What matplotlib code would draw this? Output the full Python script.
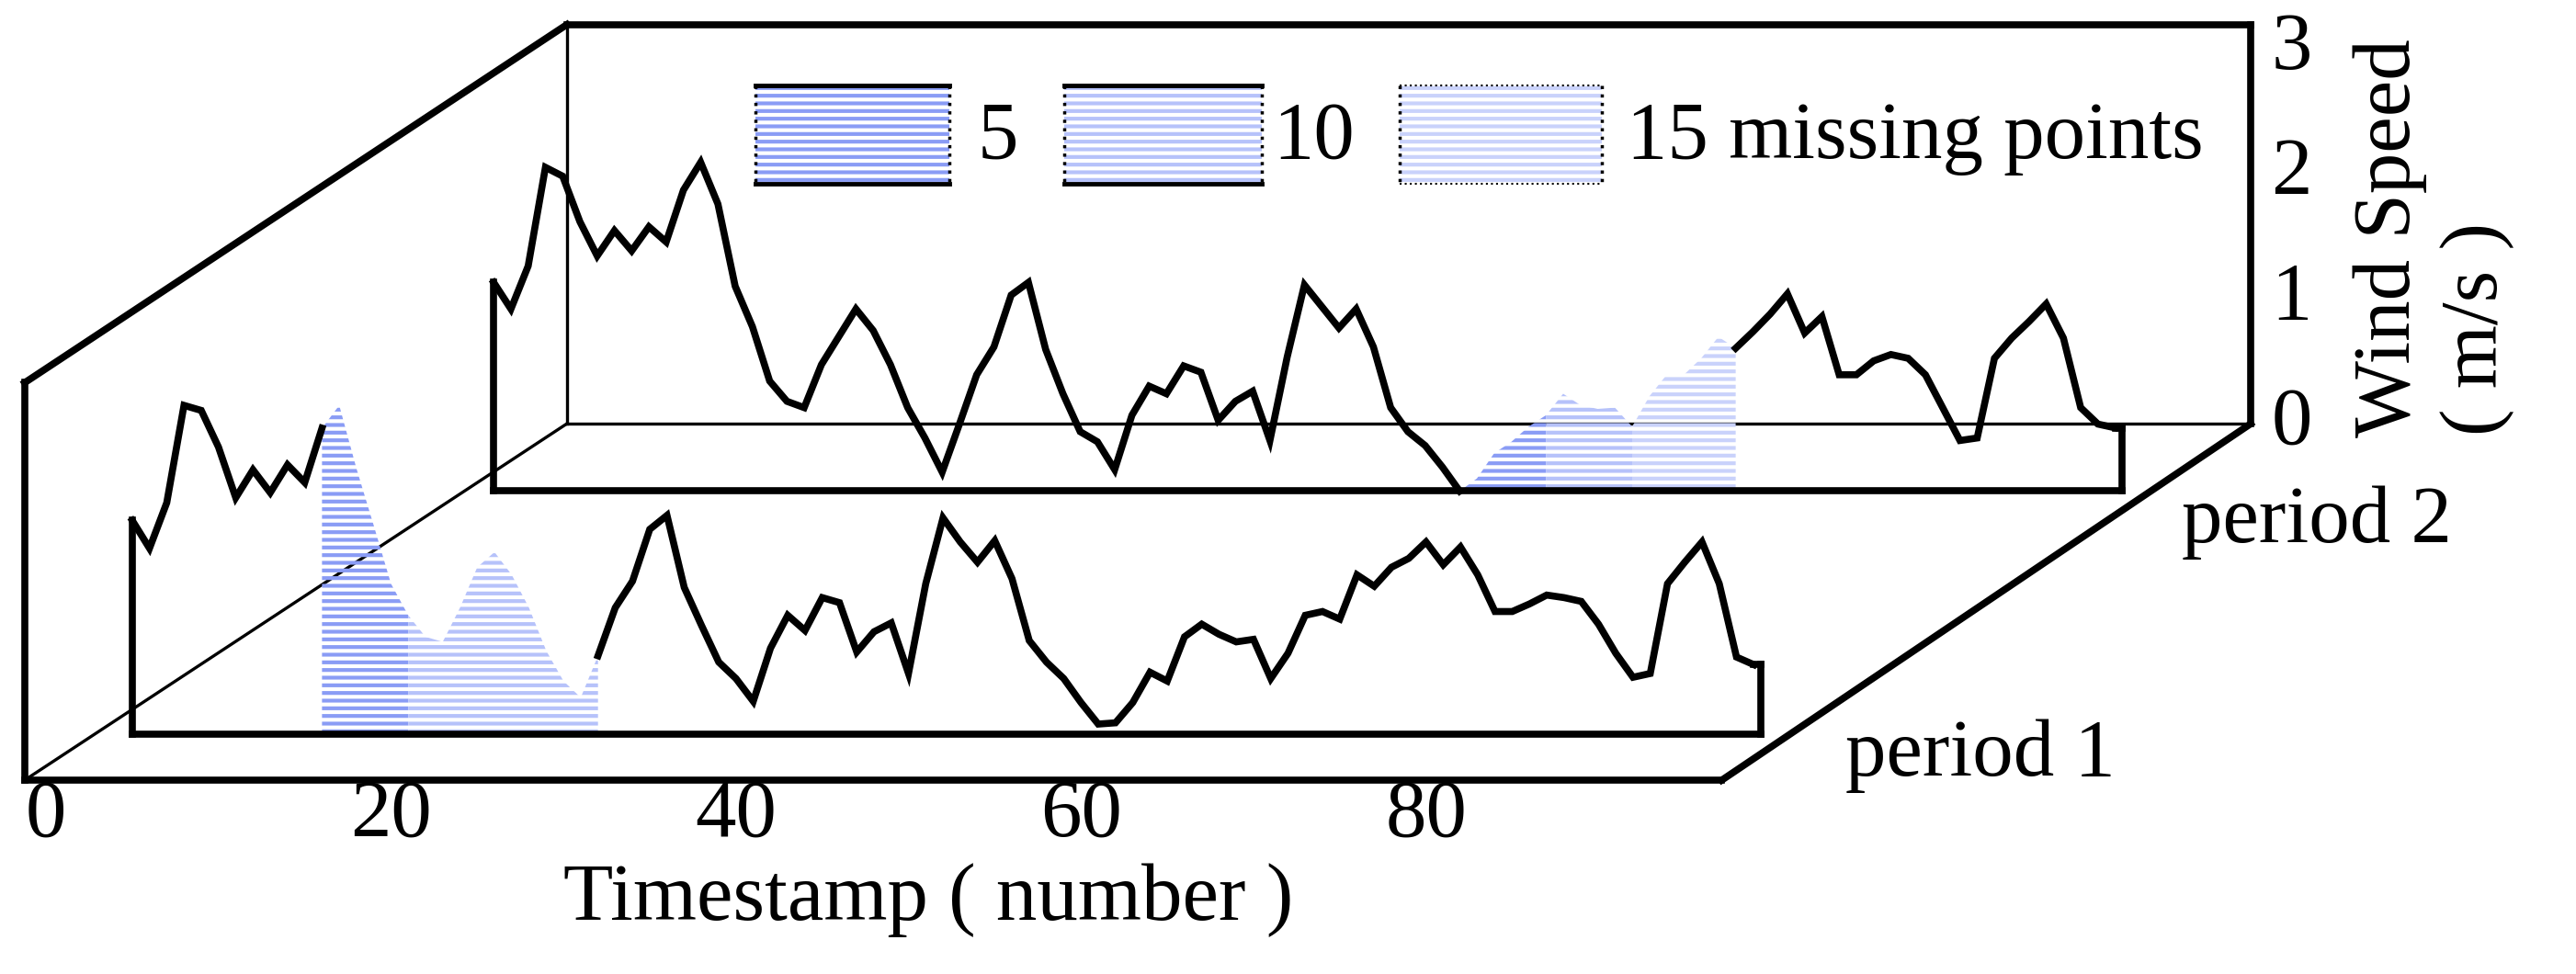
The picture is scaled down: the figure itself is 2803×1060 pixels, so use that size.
import numpy as np
import matplotlib
matplotlib.use("Agg")
import matplotlib.pyplot as plt
from matplotlib.patches import Rectangle

plt.rcParams['font.family'] = ['Liberation Serif', 'DejaVu Serif']
plt.rcParams['hatch.linewidth'] = 3.0

# ---------------- data ----------------
x_ticks = [0, 20, 40, 60, 80]
y_ticks = [0, 1, 2, 3]
legend_labels = ["5", "10", "15 missing points"]
colors = ["#8a9cf5", "#b6c2fa", "#c9d2fb"]

p1_t = list(range(5, 100))
p1_vals = [1.69, 1.47, 1.83, 2.60, 2.56, 2.27, 1.87, 2.09, 1.91, 2.13, 1.99, 2.42,
           None, None, None, None, None, None, None, None, None, None, None, None, None, None, None,
           0.62, 1.0, 1.21, 1.62, 1.73, 1.16, 0.86, 0.57, 0.44, 0.26, 0.68, 0.94, 0.82, 1.08, 1.04,
           0.65, 0.81, 0.88, 0.48, 1.19, 1.71, 1.52, 1.36, 1.53, 1.23, 0.74, 0.57, 0.44, 0.25, 0.08,
           0.09, 0.25, 0.49, 0.42, 0.77, 0.87, 0.79, 0.73, 0.75, 0.44, 0.64, 0.94, 0.97, 0.91, 1.26,
           1.17, 1.32, 1.39, 1.52, 1.34, 1.48, 1.26, 0.97, 0.97, 1.03, 1.10, 1.08, 1.05, 0.87, 0.64,
           0.45, 0.48, 1.19, 1.36, 1.52, 1.19, 0.61, 0.55]
p1_gap_t = list(range(16, 33))
p1_gap_vals = [2.42, 2.60, 2.10, 1.65, 1.19, 0.94, 0.77, 0.73, 1.0, 1.32, 1.44, 1.26, 1.0,
               0.66, 0.42, 0.29, 0.62]
p1_gap_split = [16, 21, 32]

p2_t = list(range(5, 100))
p2_vals = [1.65, 1.44, 1.78, 2.56, 2.49, 2.13, 1.86, 2.06, 1.9, 2.09, 1.97, 2.38, 2.6, 2.27, 1.62,
           1.3, 0.87, 0.71, 0.66, 1.0, 1.22, 1.44, 1.27, 1.0, 0.66, 0.42, 0.15, 0.53, 0.92, 1.14,
           1.55, 1.65, 1.12, 0.77, 0.47, 0.39, 0.17, 0.6, 0.83, 0.77, 0.99, 0.94, 0.56, 0.71, 0.79,
           0.4, 1.06, 1.63, 1.46, 1.29, 1.44, 1.14, 0.66, 0.47, 0.36, 0.19, 0.0,
           None, None, None, None, None, None, None, None, None, None, None, None, None, None, None,
           1.13, 1.26, 1.4, 1.56, 1.25, 1.38, 0.92, 0.92, 1.03, 1.08, 1.05, 0.92, 0.66, 0.4, 0.42,
           1.05, 1.21, 1.34, 1.48, 1.21, 0.66, 0.53, 0.5]
p2_gap_t = list(range(61, 78))
p2_gap_vals = [0.0, 0.1, 0.3, 0.39, 0.51, 0.6, 0.77, 0.68, 0.65, 0.66, 0.51, 0.75, 0.92, 0.92,
               1.05, 1.22, 1.13]
p2_gap_split = [61, 66, 71, 77]

# ---------------- figure ----------------
W, H = 1568.0, 593.0
fig = plt.figure(figsize=(28.03, 10.60), dpi=100)
base = fig.add_axes([0, 0, 1, 1])
base.set_xlim(0, W); base.set_ylim(H, 0); base.axis('off')

LW = 5.5
def seg(p, q, lw=LW):
    base.plot([p[0], q[0]], [p[1], q[1]], color='black', lw=lw, solid_capstyle='projecting')

# box
seg((15, 233), (15, 475)); seg((15, 475), (1048, 475))
seg((15, 233), (345, 15)); seg((345, 15), (1370, 15))
seg((1370, 15), (1370, 258)); seg((1370, 258), (1048, 475))
seg((345, 15), (345, 258), 2.4); seg((345, 258), (1370, 258), 2.4)
seg((15, 475), (345, 258), 2.4)

def series_axes(x0, y0):
    ax = fig.add_axes([0, 0, 1, 1], facecolor='none')
    ax.set_xlim(-x0 / 10.5, (W - x0) / 10.5)
    ax.set_ylim((y0 - H) / 77.0, y0 / 77.0)
    ax.axis('off')
    return ax

def draw_series(ax, t, vals, gap_t, gap_vals, splits, colors_used):
    v = np.array([np.nan if a is None else a for a in vals], float)
    t = np.array(t, float)
    gt = np.array(gap_t, float); gv = np.array(gap_vals, float)
    for i in range(len(splits) - 1):
        m = (gt >= splits[i]) & (gt <= splits[i + 1])
        ax.fill_between(gt[m], 0, gv[m], facecolor='none', edgecolor=colors_used[i],
                        hatch='--', linewidth=0)
    ax.plot(t, v, color='black', lw=LW, solid_joinstyle='miter')
    ax.plot([t[0], t[0]], [0, v[0]], color='black', lw=LW)
    ax.plot([t[-1] + 0.4, t[-1] + 0.4], [0, v[-1]], color='black', lw=LW)
    ax.plot([t[-1], t[-1] + 0.4], [v[-1], v[-1]], color='black', lw=LW)
    ax.plot([t[0], t[-1] + 0.4], [0, 0], color='black', lw=LW)

ax2 = series_axes(248, 299)
draw_series(ax2, p2_t, p2_vals, p2_gap_t, p2_gap_vals, p2_gap_split, colors)
ax1 = series_axes(28, 447)
draw_series(ax1, p1_t, p1_vals, p1_gap_t, p1_gap_vals, p1_gap_split, colors[:2])

FS = 64
for k in x_ticks:
    base.text(28 + 10.5 * k, 497, str(k), ha='center', va='center', fontsize=FS)
for k in y_ticks:
    base.text(1395, 258 - 76 * k, str(k), ha='center', va='center', fontsize=FS)
base.text(565, 548, "Timestamp ( number )", ha='center', va='center', fontsize=FS)
base.text(1455, 145, "Wind Speed", ha='center', va='center', fontsize=FS, rotation=90)
base.text(1508, 200, "( m/s )", ha='center', va='center', fontsize=FS, rotation=90)
base.text(1328, 318, "period 2", ha='left', va='center', fontsize=FS)
base.text(1123, 460, "period 1", ha='left', va='center', fontsize=FS)

# legend
leg = [(460, 578, 595), (648, 768, 775), (852, 975, 990)]
for i, (xa, xb, xt) in enumerate(leg):
    base.add_patch(Rectangle((xa, 52), xb - xa, 60, facecolor='none', edgecolor=colors[i],
                             hatch='--', linewidth=0))
    base.plot([xa, xb], [52, 52], color='black', lw=3.5 if i < 2 else 1.5, ls='-' if i < 2 else ':')
    base.plot([xa, xb], [112, 112], color='black', lw=3.5 if i < 2 else 1.5, ls='-' if i < 2 else ':')
    base.plot([xa, xa], [52, 112], color='black', lw=2.5, ls=':')
    base.plot([xb, xb], [52, 112], color='black', lw=2.5, ls=':')
    base.text(xt, 84, legend_labels[i], ha='left', va='center', fontsize=FS)

fig.savefig("out.png", dpi=100)
